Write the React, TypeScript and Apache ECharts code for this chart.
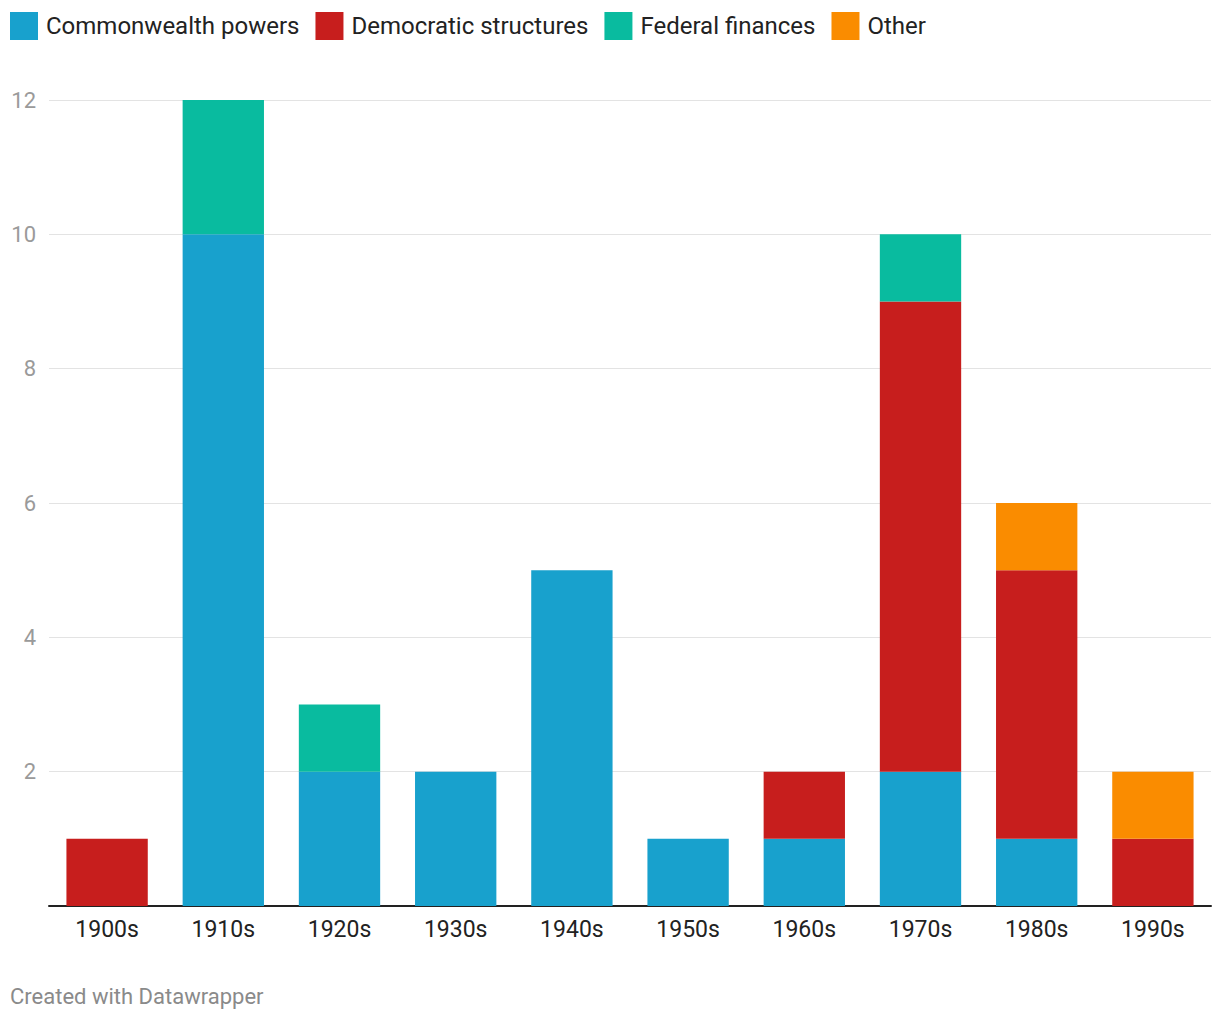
import React, { useEffect, useRef } from "react";
import * as echarts from "echarts";

const categories = ["1900s", "1910s", "1920s", "1930s", "1940s", "1950s", "1960s", "1970s", "1980s", "1990s"];
const commonwealth = [0, 10, 2, 2, 5, 1, 1, 2, 1, 0];
const democratic = [1, 0, 0, 0, 0, 0, 1, 7, 4, 1];
const federal = [0, 2, 1, 0, 0, 0, 0, 1, 0, 0];
const other = [0, 0, 0, 0, 0, 0, 0, 0, 1, 1];

const seriesNames = ["Commonwealth powers", "Democratic structures", "Federal finances", "Other"];
const seriesColors = ["#18a1cd", "#c71e1d", "#09bb9f", "#fa8c00"];
const seriesData = [commonwealth, democratic, federal, other];

const FONT = "Roboto, 'Noto Sans', sans-serif";

export default function App() {
  const ref = useRef<HTMLDivElement>(null);
  useEffect(() => {
    if (!ref.current) return;
    const chart = echarts.init(ref.current, undefined, { renderer: "svg" });
    chart.setOption({
      animation: false,
      textStyle: { fontFamily: FONT },
      legend: {
        top: 12,
        left: 10,
        padding: 0,
        itemWidth: 28,
        itemHeight: 28,
        itemGap: 16,
        icon: "rect",
        selectedMode: false,
        textStyle: { fontSize: 24, color: "#222", fontFamily: FONT, padding: [0, 0, 0, 3] },
        data: seriesNames,
      },
      grid: { left: 49, right: 9, top: 100, bottom: 114, containLabel: false },
      xAxis: {
        type: "category",
        data: categories,
        axisLine: { lineStyle: { color: "#222", width: 2 } },
        axisTick: { show: false },
        axisLabel: { fontSize: 23, color: "#222", margin: 12, fontFamily: FONT },
      },
      yAxis: {
        type: "value",
        min: 0,
        max: 12,
        interval: 2,
        axisLine: { show: false },
        axisTick: { show: false },
        splitLine: { lineStyle: { color: "#e3e3e3", width: 1 } },
        axisLabel: {
          fontSize: 22,
          color: "#9a9a9a",
          margin: 13,
          fontFamily: FONT,
          formatter: (v: number) => (v === 0 ? "" : String(v)),
        },
      },
      series: seriesNames.map((name, i) => ({
        name,
        type: "bar",
        stack: "total",
        barCategoryGap: "30%",
        itemStyle: { color: seriesColors[i] },
        data: seriesData[i],
      })),
      graphic: [
        {
          type: "text",
          left: 10,
          top: 985,
          style: { text: "Created with Datawrapper", fontSize: 22, fill: "#8a8a8a", fontFamily: FONT },
        },
      ],
    });
    return () => chart.dispose();
  }, []);
  return (
    <div
      ref={ref}
      style={{ position: "absolute", left: 0, top: 0, width: 1220, height: 1020, background: "#fff" }}
    />
  );
}
